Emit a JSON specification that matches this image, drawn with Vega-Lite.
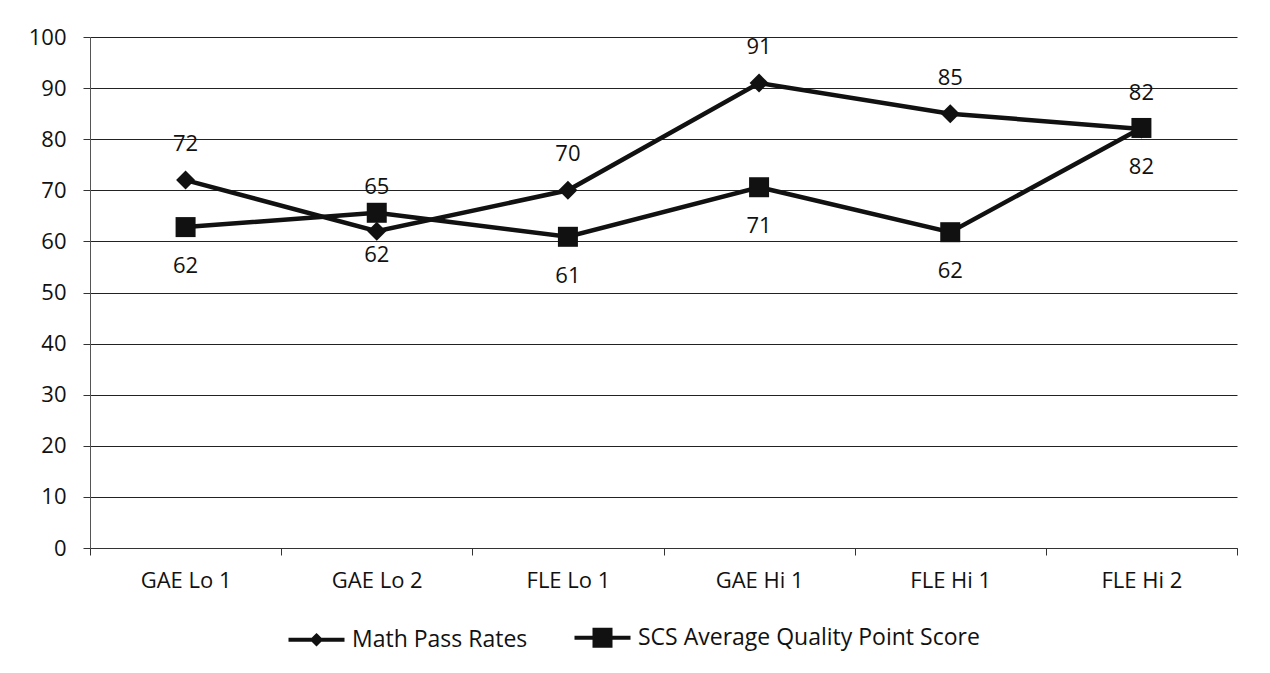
{
  "$schema": "https://vega.github.io/schema/vega-lite/v6.json",
  "width": 1147,
  "height": 511,
  "autosize": {"type": "none"},
  "padding": {"left": 90, "top": 37, "right": 33, "bottom": 125},
  "background": "white",
  "config": {"view": {"stroke": null}, "font": "Open Sans"},
  "data": {
    "values": [
      {"cat": "GAE Lo 1", "series": "Math Pass Rates", "value": 72, "label": "72", "pos": "above"},
      {"cat": "GAE Lo 2", "series": "Math Pass Rates", "value": 62, "label": "62", "pos": "below2"},
      {"cat": "FLE Lo 1", "series": "Math Pass Rates", "value": 70, "label": "70", "pos": "above"},
      {"cat": "GAE Hi 1", "series": "Math Pass Rates", "value": 91, "label": "91", "pos": "above"},
      {"cat": "FLE Hi 1", "series": "Math Pass Rates", "value": 85, "label": "85", "pos": "above"},
      {"cat": "FLE Hi 2", "series": "Math Pass Rates", "value": 82, "label": "82", "pos": "above"},
      {"cat": "GAE Lo 1", "series": "SCS Average Quality Point Score", "value": 62.8, "label": "62", "pos": "below"},
      {"cat": "GAE Lo 2", "series": "SCS Average Quality Point Score", "value": 65.6, "label": "65", "pos": "above2"},
      {"cat": "FLE Lo 1", "series": "SCS Average Quality Point Score", "value": 60.9, "label": "61", "pos": "below"},
      {"cat": "GAE Hi 1", "series": "SCS Average Quality Point Score", "value": 70.6, "label": "71", "pos": "below"},
      {"cat": "FLE Hi 1", "series": "SCS Average Quality Point Score", "value": 61.8, "label": "62", "pos": "below"},
      {"cat": "FLE Hi 2", "series": "SCS Average Quality Point Score", "value": 82.2, "label": "82", "pos": "below"}
    ]
  },
  "encoding": {
    "x": {
      "field": "cat",
      "type": "nominal",
      "sort": ["GAE Lo 1", "GAE Lo 2", "FLE Lo 1", "GAE Hi 1", "FLE Hi 1", "FLE Hi 2"],
      "scale": {"type": "band", "paddingInner": 0, "paddingOuter": 0},
      "axis": {
        "title": null,
        "labelAngle": 0,
        "labelFontSize": 22,
        "labelColor": "#111",
        "labelPadding": 15,
        "tickBand": "extent",
        "tickSize": 7,
        "tickColor": "#333",
        "domainColor": "#333",
        "grid": false
      }
    },
    "y": {
      "field": "value",
      "type": "quantitative",
      "scale": {"domain": [0, 100], "nice": false},
      "axis": {
        "title": null,
        "values": [0, 10, 20, 30, 40, 50, 60, 70, 80, 90, 100],
        "labelFontSize": 22,
        "labelColor": "#111",
        "labelPadding": 17,
        "tickSize": 7,
        "tickColor": "#333",
        "domainColor": "#555",
        "gridColor": "#222",
        "gridWidth": 1.2
      }
    }
  },
  "layer": [
    {
      "mark": {"type": "line", "color": "#111", "strokeWidth": 4.5},
      "encoding": {"detail": {"field": "series"}}
    },
    {
      "mark": {"type": "point", "filled": true, "color": "#111", "opacity": 1},
      "encoding": {
        "shape": {
          "field": "series",
          "scale": {"domain": ["Math Pass Rates", "SCS Average Quality Point Score"], "range": ["diamond", "square"]},
          "legend": null
        },
        "size": {
          "field": "series",
          "scale": {"domain": ["Math Pass Rates", "SCS Average Quality Point Score"], "range": [360, 400]},
          "legend": null
        }
      }
    },
    {
      "mark": {"type": "point", "filled": false, "color": "#111", "strokeWidth": 4, "opacity": 0},
      "encoding": {
        "shape": {
          "field": "series",
          "scale": {
            "domain": ["Math Pass Rates", "SCS Average Quality Point Score"],
            "range": ["M-3.5,0L3.5,0M0,-0.5L0.5,0L0,0.5L-0.5,0Z", "M-3.5,0L3.5,0M-1,-1L1,-1L1,1L-1,1ZM-0.5,-0.5L0.5,-0.5L0.5,0.5L-0.5,0.5ZM0,-0.5L0,0.5"]
          },
          "legend": {
            "title": null,
            "orient": "none",
            "legendX": 215,
            "legendY": 589,
            "direction": "horizontal",
            "labelFontSize": 23,
            "labelColor": "#111",
            "labelLimit": 600,
            "symbolOpacity": 1,
            "symbolSize": 256,
            "symbolStrokeColor": "#111",
            "symbolStrokeWidth": 4,
            "columnPadding": 38,
            "labelOffset": 24
          }
        }
      }
    },
    {
      "transform": [{"filter": "datum.pos === 'above'"}],
      "mark": {"type": "text", "fontSize": 22, "color": "#111", "dy": -36},
      "encoding": {"text": {"field": "label"}}
    },
    {
      "transform": [{"filter": "datum.pos === 'below'"}],
      "mark": {"type": "text", "fontSize": 22, "color": "#111", "dy": 39},
      "encoding": {"text": {"field": "label"}}
    },
    {
      "transform": [{"filter": "datum.pos === 'above2'"}],
      "mark": {"type": "text", "fontSize": 22, "color": "#111", "dy": -26},
      "encoding": {"text": {"field": "label"}}
    },
    {
      "transform": [{"filter": "datum.pos === 'below2'"}],
      "mark": {"type": "text", "fontSize": 22, "color": "#111", "dy": 24},
      "encoding": {"text": {"field": "label"}}
    }
  ],
  "resolve": {"scale": {"shape": "independent"}}
}
